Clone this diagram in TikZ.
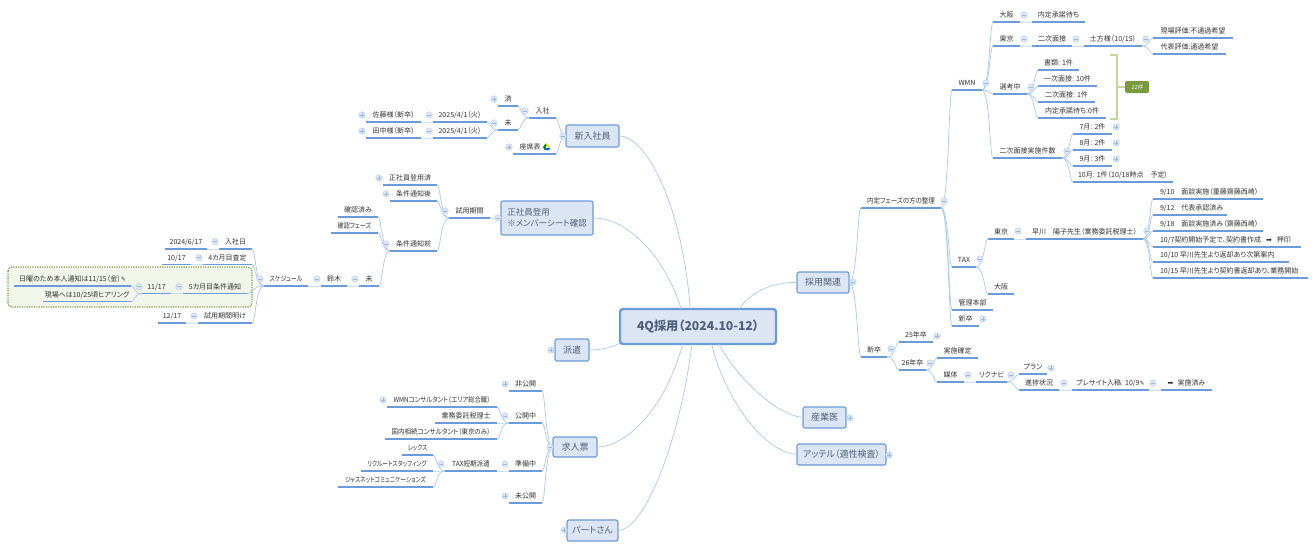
\documentclass[tikz,border=0pt]{standalone}
\usepackage{fontspec}
\setmainfont[RawFeature=+palt]{Noto Sans CJK JP}
\newfontfamily\symf{DejaVu Sans}
\newfontfamily\slantf[FakeSlant=0.2]{Noto Sans CJK JP}
\usetikzlibrary{calc}
\definecolor{linecol}{HTML}{A9C8F0}
\definecolor{undercol}{HTML}{6A9BDB}
\definecolor{stubcol}{HTML}{CFE0F5}
\definecolor{boxfill}{HTML}{DBE5F3}
\definecolor{boxtext}{HTML}{4F5F7C}
\definecolor{foldfill}{HTML}{DCE8F7}
\definecolor{foldedge}{HTML}{BCD2EE}
\definecolor{foldmark}{HTML}{9DB5D8}
\definecolor{bndfill}{HTML}{F2F5EA}
\definecolor{bndline}{HTML}{7F9A45}
\definecolor{sumline}{HTML}{C3D69B}
\definecolor{sumfill}{HTML}{7A9A3E}
\tikzset{
	tpc/.style={anchor=south, inner xsep=0pt, inner ysep=1.5pt, outer sep=0pt, text height=6pt, text depth=3.2pt, text=black!80, font=\fontsize{7}{8}\selectfont},
	under/.style={line width=1.3pt, color=undercol},
	lnk/.style={line width=0.7pt, color=linecol},
	stub/.style={line width=1pt, color=stubcol},
	mbox/.style={draw=undercol, fill=boxfill, line width=1.1pt, rounded corners=2pt, inner sep=0pt, outer sep=0pt, text=boxtext, font=\fontsize{9}{11}\selectfont},
	rootbox/.style={draw=undercol, fill=boxfill, line width=2.4pt, rounded corners=3pt, inner sep=0pt, outer sep=0pt, minimum width=156pt, minimum height=35pt, text=boxtext, font=\fontsize{12.2}{14}\selectfont\bfseries},
	fold/.style={circle, inner sep=0pt, outer sep=0pt, minimum size=6.5pt, fill=foldfill, draw=foldedge, line width=0.5pt},
	foldm/.style={fold, path picture={\draw[color=foldmark, line width=0.5pt] (path picture bounding box.center) ++(-1.6,0) -- ++(3.2,0);}},
	foldp/.style={fold, path picture={\draw[color=foldmark, line width=0.5pt] (path picture bounding box.center) ++(-1.6,0) -- ++(3.2,0) (path picture bounding box.center) ++(0,-1.6) -- ++(0,3.2);}},
}
\def\tpc(#1)(#2,#3,#4)#5{\pgfmathsetmacro\tpcw{#3-#2}\node[tpc, minimum width=\tpcw pt] (#1) at ({(#2+#3)/2},#4) {\makebox[\tpcw pt]{#5}};\draw[under] (#1.south west) -- (#1.south east);}
\def\curv(#1)(#2){\draw[lnk] (#1) .. controls ($(#1)!0.7!(#1 -| #2)$) and ($(#2)!0.3!(#2 -| #1)$) .. (#2);}
\def\lkl#1#2{\curv(#1.south west)(#2.south east)}
\def\lkr#1#2{\curv(#1.south east)(#2.south west)}
\def\stl#1#2{\draw[stub] (#1.south west) -- (#2.south east);}
\def\str#1#2{\draw[stub] (#1.south east) -- (#2.south west);}
\def\sz#1{\fontsize{#1}{8}\selectfont}
\def\sq#1#2{\scalebox{#1}[1]{#2}}
\begin{document}
\begin{tikzpicture}[x=1pt, y=-1pt]
	\useasboundingbox (0,0) rectangle (1315,549);
	%%%%% BOUNDARY %%%%%
	\draw[fill=bndfill, draw=bndline, line width=1.2pt, dash pattern=on 1.2pt off 1.2pt, rounded corners=4pt] (8,267) rectangle (252,307);
	
	%%%%% MAIN BOXES %%%%%
	\node[rootbox] (root) at (698,326.5) {4Q採用（2024.10-12）};
	\node[mbox, minimum width=53pt, minimum height=22pt] (nyusha) at (592.5,136) {新入社員};
	\node[mbox, minimum width=92pt, minimum height=34pt, align=left, font=\fontsize{8.5}{11}\selectfont] (seishain) at (547,218) {正社員登用\\※メンバーシート確認};
	\node[mbox, minimum width=34pt, minimum height=22pt] (haken) at (572,350) {派遣};
	\node[mbox, minimum width=44pt, minimum height=20pt] (kyujin) at (575,447) {求人票};
	\node[mbox, minimum width=51pt, minimum height=21pt] (part) at (592.5,530.5) {パートさん};
	\node[mbox, minimum width=52pt, minimum height=21pt] (saiyo) at (823,282.5) {採用関連};
	\node[mbox, minimum width=43pt, minimum height=21pt] (sangyo) at (824.5,417.5) {産業医};
	\node[mbox, minimum width=89pt, minimum height=21pt] (attel) at (841.5,454.5) {アッテル（適性検査）};
	
	\draw[lnk] (nyusha.east) .. controls (648,136) and (683,210) .. (root.114.6);
	\draw[lnk] (seishain.east) .. controls (635,218) and (670,270) .. (root.134);
	\draw[lnk] (haken.east) .. controls (600,350) and (610,348) .. (root.192.6);
	\draw[lnk] (kyujin.east) .. controls (625,447) and (665,410) .. (root.229.4);
	\draw[lnk] (part.east) .. controls (645,530) and (680,440) .. (root.251.1);
	\draw[lnk] (saiyo.west) .. controls (770,282) and (750,293) .. (root.23.6);
	\draw[lnk] (sangyo.west) .. controls (775,415) and (735,375) .. (root.320.2);
	\draw[lnk] (attel.west) .. controls (760,452) and (722,390) .. (root.308.7);
	
	%%%%% NYUSHA %%%%%
	\tpc(nyushaT)(529,556,118){入社}
	\tpc(zaseki)(513,556,154){座席表\hspace{9pt}}
	\tpc(zumi)(498,518,106){済}
	\tpc(mi)(498,518,130){未}
	\tpc(dateA)(433,487,122){2025/4/1（火）}
	\tpc(dateB)(433,487,138){2025/4/1（火）}
	\tpc(sato)(366,421,122){佐藤様（新卒）}
	\tpc(tanaka)(366,421,138){田中様（新卒）}
	\fill[color=yellow!80!orange] (545.4,143.5) -- (547.6,143.5) -- (550.2,147.5) -- (548,147.5) -- cycle;
	\fill[color=green!55!black] (545.4,143.5) -- (546.5,145.5) -- (544.6,150) -- (543,147.3) -- cycle;
	\fill[color=blue!65!cyan] (545.6,147.9) -- (550.2,147.9) -- (548.8,150) -- (544.6,150) -- cycle;
	\curv(nyusha.west)(nyushaT.south east)
	\curv(nyusha.west)(zaseki.south east)
	\lkl{nyushaT}{zumi}
	\lkl{nyushaT}{mi}
	\lkl{mi}{dateA}
	\lkl{mi}{dateB}
	\stl{dateA}{sato}
	\stl{dateB}{tanaka}
	
	%%%%% SEISHAIN %%%%%
	\tpc(shiyo)(449,490,218){試用期間}
	\tpc(tosumi)(383,437,185){正社員登用済}
	\tpc(tsuchiA)(390,437,201){条件通知後}
	\tpc(tsuchiB)(390,437,251){条件通知前}
	\tpc(kakuninA)(338,378,217){確認済み}
	\tpc(kakuninB)(331,378,233){\sq{0.87}{確認フェーズ}}
	\tpc(miB)(359,379,286){未}
	\tpc(suzuki)(321,347,286){鈴木}
	\tpc(sched)(264,308,286){\sq{0.85}{スケジュール}}
	\tpc(nyushabi)(219,252,249){入社日}
	\tpc(satei)(203,252,264.7){4カ月目査定}
	\tpc(joken)(183,247,293.7){5カ月目条件通知}
	\tpc(ake)(198,252,323){試用期間明け}
	\tpc(dNyu)(165,207,249){2024/6/17}
	\tpc(dSat)(162,191,264.7){10/17}
	\tpc(dJok)(142,171,293.7){11/17}
	\tpc(dAke)(158,186,323){12/17}
	\tpc(nichiyo)(14,131,286){日曜のため本人通知は11/15（金）{\symf\sz{6}✎}}
	\tpc(genba)(43,131,301.7){現場へは10/25頃ヒアリング}
	\draw[stub] (seishain.west) -- (shiyo.south east);
	\lkl{shiyo}{tosumi}
	\lkl{shiyo}{tsuchiA}
	\lkl{shiyo}{tsuchiB}
	\lkl{tsuchiB}{kakuninA}
	\lkl{tsuchiB}{kakuninB}
	\lkl{tsuchiB}{miB}
	\stl{miB}{suzuki}
	\stl{suzuki}{sched}
	\lkl{sched}{nyushabi}
	\lkl{sched}{satei}
	\lkl{sched}{joken}
	\lkl{sched}{ake}
	\stl{nyushabi}{dNyu}
	\stl{satei}{dSat}
	\stl{joken}{dJok}
	\stl{ake}{dAke}
	\lkl{dJok}{nichiyo}
	\lkl{dJok}{genba}
	
	%%%%% KYUJIN %%%%%
	\tpc(hikokai)(509,542,391){非公開}
	\tpc(kokai)(509,542,423){公開中}
	\tpc(junbi)(509,542,471){準備中}
	\tpc(mikokai)(509,542,503){未公開}
	\tpc(wmnc)(387,497,407){\sq{0.9}{WMNコンサルタント（エリア総合職）}}
	\tpc(gyomu)(435,497,423){業務委託税理士}
	\tpc(sozoku)(385,497,439){\sq{0.93}{国内相続コンサルタント（東京のみ）}}
	\tpc(taxhaken)(445,497,471){\sq{0.94}{TAX短期派遣}}
	\tpc(rex)(402,433,455){\sq{0.8}{レックス}}
	\tpc(recruit)(361,433,471){\sq{0.82}{リクルートスタッフィング}}
	\tpc(jusnet)(338,433,487){\sq{0.82}{ジャスネットコミュニケーションズ}}
	\curv(kyujin.west)(hikokai.south east)
	\curv(kyujin.west)(kokai.south east)
	\curv(kyujin.west)(junbi.south east)
	\curv(kyujin.west)(mikokai.south east)
	\lkl{kokai}{wmnc}
	\stl{kokai}{gyomu}
	\lkl{kokai}{sozoku}
	\stl{junbi}{taxhaken}
	\lkl{taxhaken}{rex}
	\stl{taxhaken}{recruit}
	\lkl{taxhaken}{jusnet}
	
	%%%%% SAIYO %%%%%
	\tpc(naitei)(861,941,208){\sq{0.93}{内定フェーズの方の整理}}
	\tpc(wmn)(952,982,90){WMN}
	\tpc(tax)(952,976,267){TAX}
	\tpc(kanri)(952,993,310){管理本部}
	\tpc(shinA)(952,979,326){新卒}
	\tpc(osaka)(993,1020,22){大阪}
	\tpc(shodaku)(1032,1085,22){内定承諾待ち}
	\tpc(tokyo)(993,1020,46){東京}
	\tpc(niji)(1032,1072,46){二次面接}
	\tpc(hijikata)(1084,1142,46){土方様（10/15）}
	\tpc(genhyo)(1153,1233,38){現場評価:不通過希望}
	\tpc(daihyo)(1153,1226,54){代表評価:通過希望}
	\tpc(senko)(993,1027,94){選考中}
	\tpc(shorui)(1038,1079,70){書類: 1件}
	\tpc(ichiken)(1038,1097,86){一次面接: 10件}
	\tpc(niken)(1038,1095,102){二次面接: 1件}
	\tpc(naiken)(1038,1106,118){内定承諾待ち:0件}
	\tpc(jisshi)(993,1062,158){二次面接実施件数}
	\tpc(julA)(1073,1112,134){7月: 2件}
	\tpc(julB)(1073,1112,150){8月: 2件}
	\tpc(julC)(1073,1112,166){9月: 3件}
	\tpc(julD)(1073,1173,182){10月: 1件（10/18時点　予定）}
	\tpc(tokyoB)(988,1014,239){東京}
	\tpc(osakaB)(988,1014,294){大阪}
	\tpc(hayakawa)(1026,1143,239){早川　陽子先生（業務委託税理士）}
	\tpc(keiA)(1153,1263,199){\hspace{7pt}9/10　面談実施（重藤齋藤西崎）\hfill}
	\tpc(keiB)(1153,1227,215){\hspace{7pt}9/12　代表承認済み\hfill}
	\tpc(keiC)(1153,1263,231){\hspace{7pt}9/18　面談実施済み（齋藤西崎）\hfill}
	\tpc(keiD)(1153,1301,247){\hspace{7pt}10/7契約開始予定で、契約書作成\hspace{5pt}{\symf\sz{7}➡}\hspace{5pt}押印\hfill}
	\tpc(keiE)(1153,1289,262){\hspace{7pt}10/10 早川先生より返却あり次第案内\hfill}
	\tpc(keiF)(1153,1308,278){\hspace{7pt}10/15 早川先生より契約書返却あり、業務開始\hfill}
	\tpc(shinB)(861,887,357){新卒}
	\tpc(nenA)(899,933,342){25年卒}
	\tpc(nenB)(899,926,370){26年卒}
	\tpc(kakutei)(937,978,358){実施確定}
	\tpc(baitai)(937,964,382){媒体}
	\tpc(rikunabi)(976,1007,382){リクナビ}
	\tpc(plan)(1019,1047,374){プラン}
	\tpc(shinchoku)(1019,1059,390){進捗状況}
	\tpc(presite)(1072,1149,390){プレサイト入稿: 10/9{\symf\sz{6}✎}}
	\tpc(zumiB)(1161,1212,390){{\symf\sz{7}➡}\hspace{4pt}実施済み}
	\curv(saiyo.east)(naitei.south west)
	\curv(saiyo.east)(shinB.south west)
	\lkr{naitei}{wmn}
	\lkr{naitei}{tax}
	\lkr{naitei}{kanri}
	\lkr{naitei}{shinA}
	\lkr{wmn}{osaka}
	\lkr{wmn}{tokyo}
	\lkr{wmn}{senko}
	\lkr{wmn}{jisshi}
	\str{osaka}{shodaku}
	\str{tokyo}{niji}
	\str{niji}{hijikata}
	\lkr{hijikata}{genhyo}
	\lkr{hijikata}{daihyo}
	\lkr{senko}{shorui}
	\lkr{senko}{ichiken}
	\lkr{senko}{niken}
	\lkr{senko}{naiken}
	\lkr{jisshi}{julA}
	\lkr{jisshi}{julB}
	\lkr{jisshi}{julC}
	\lkr{jisshi}{julD}
	\lkr{tax}{tokyoB}
	\lkr{tax}{osakaB}
	\str{tokyoB}{hayakawa}
	\lkr{hayakawa}{keiA}
	\lkr{hayakawa}{keiB}
	\lkr{hayakawa}{keiC}
	\lkr{hayakawa}{keiD}
	\lkr{hayakawa}{keiE}
	\lkr{hayakawa}{keiF}
	\lkr{shinB}{nenA}
	\lkr{shinB}{nenB}
	\lkr{nenB}{kakutei}
	\lkr{nenB}{baitai}
	\str{baitai}{rikunabi}
	\lkr{rikunabi}{plan}
	\lkr{rikunabi}{shinchoku}
	\str{shinchoku}{presite}
	\str{presite}{zumiB}
	
	%%%%% SUMMARY %%%%%
	\node[fill=sumfill, rounded corners=1.5pt, inner sep=0pt, minimum width=24pt, minimum height=12pt, text=white, font=\slantf\fontsize{5.5}{6}\selectfont] (kensu) at (1137,87) {12件};
	\coordinate (brk) at (1117,87);
	\draw[line width=1.8pt, color=sumline] (1110,55) -- (1117,55) -- (1117,119) -- (1110,119);
	\draw[line width=1.8pt, color=sumline] (brk) -- (kensu.west);
	
	%%%%% FOLDS %%%%%
	\node[foldm] (fNyusha) at (563,136) {};
	\node[foldm] (fNyushaT) at (525,111) {};
	\node[foldp] (fZumi) at (494,99) {};
	\node[foldm] (fMi) at (494,123) {};
	\node[foldp] (fZaseki) at (509,147) {};
	\node[foldm] (fDateA) at (429,115) {};
	\node[foldm] (fDateB) at (429,131) {};
	\node[foldp] (fSato) at (362,115) {};
	\node[foldp] (fTanaka) at (362,131) {};
	\node[foldm] (fSeishain) at (498,218) {};
	\node[foldm] (fShiyo) at (445,211) {};
	\node[foldp] (fTosumi) at (379,178) {};
	\node[foldp] (fTsuchiA) at (386,194) {};
	\node[foldm] (fTsuchiB) at (386,244) {};
	\node[foldm] (fMiB) at (355,279) {};
	\node[foldm] (fSuzuki) at (317,279) {};
	\node[foldm] (fSched) at (260,279) {};
	\node[foldm] (fNyushabi) at (215,241.7) {};
	\node[foldm] (fSatei) at (199,257.7) {};
	\node[foldm] (fJoken) at (179,286.7) {};
	\node[foldm] (fDJok) at (139,286.7) {};
	\node[foldm] (fAke) at (194,316) {};
	\node[foldp] (fHaken) at (551,350) {};
	\node[foldm] (fKyujin) at (550,447) {};
	\node[foldp] (fPart) at (564,530) {};
	\node[foldp] (fHikokai) at (505,384) {};
	\node[foldm] (fKokai) at (505,416) {};
	\node[foldm] (fJunbi) at (505,464) {};
	\node[foldp] (fMikokai) at (505,496) {};
	\node[foldp] (fWmnc) at (383,400) {};
	\node[foldm] (fTaxhaken) at (441,464) {};
	\node[foldm] (fSaiyo) at (853,282) {};
	\node[foldp] (fSangyo) at (850,418) {};
	\node[foldp] (fAttel) at (889,455) {};
	\node[foldm] (fNaitei) at (944,201) {};
	\node[foldm] (fWmn) at (986,83) {};
	\node[foldm] (fOsaka) at (1024,15) {};
	\node[foldm] (fTokyo) at (1024,39) {};
	\node[foldm] (fNiji) at (1076,39) {};
	\node[foldm] (fHijikata) at (1146,39) {};
	\node[foldm] (fSenko) at (1031,87) {};
	\node[foldm] (fJisshi) at (1067,151) {};
	\node[foldp] (fJulA) at (1116,127) {};
	\node[foldp] (fJulB) at (1116,143) {};
	\node[foldp] (fJulC) at (1116,159) {};
	\node[foldm] (fTax) at (980,259) {};
	\node[foldm] (fTokyoB) at (1018,231) {};
	\node[foldm] (fHayakawa) at (1147,231) {};
	\node[foldp] (fShinA) at (983,319) {};
	\node[foldm] (fShinB) at (891,349) {};
	\node[foldp] (fNenA) at (937,336) {};
	\node[foldm] (fNenB) at (930,363) {};
	\node[foldm] (fBaitai) at (968,375) {};
	\node[foldm] (fRikunabi) at (1011,375) {};
	\node[foldp] (fPlan) at (1051,368) {};
	\node[foldm] (fShinchoku) at (1064,383) {};
	\node[foldm] (fPresite) at (1153,383) {};
\end{tikzpicture}
\end{document}
